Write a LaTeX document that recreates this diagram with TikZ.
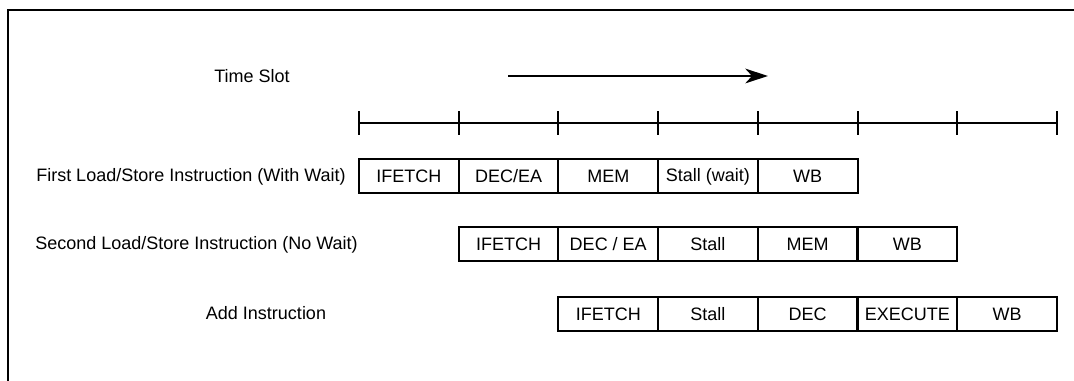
\documentclass[tikz,border=0pt]{standalone}
\usepackage{fontspec}
\setmainfont{Liberation Sans}
\usetikzlibrary{arrows.meta}
\begin{document}
\begin{tikzpicture}[x=0.75pt,y=0.75pt,
  txt/.style={inner sep=0pt,font=\fontsize{13.5}{16}\selectfont},
  stage/.style={txt,draw=black,line width=1.5pt,outer sep=0pt,minimum width=74.8pt,minimum height=25.5pt}]
\useasboundingbox (0,0) rectangle (1074,381);
\draw[black,line width=1.5pt] (8,0) -- (8,371) -- (1074,371);
\node[txt,anchor=center] (slot) at (252,305) {Time Slot};
\coordinate (arrowstart) at (508,305);
\coordinate (arrowend) at (768,305);
\draw[black,line width=1.6pt,-{Stealth[length=17pt,width=11pt,inset=5pt]}] (arrowstart) -- (arrowend);
\coordinate (t0) at (359.0,258);
\coordinate (t7) at (1056.9,258);
\draw[black,line width=1.5pt] (t0) -- (t7);
\draw[black,line width=1.5pt] (359.0,246) -- (359.0,270);
\draw[black,line width=1.5pt] (458.7,246) -- (458.7,270);
\draw[black,line width=1.5pt] (558.4,246) -- (558.4,270);
\draw[black,line width=1.5pt] (658.1,246) -- (658.1,270);
\draw[black,line width=1.5pt] (757.8,246) -- (757.8,270);
\draw[black,line width=1.5pt] (857.5,246) -- (857.5,270);
\draw[black,line width=1.5pt] (957.2,246) -- (957.2,270);
\draw[black,line width=1.5pt] (1056.9,246) -- (1056.9,270);
\node[txt,anchor=west] (first) at (36,204.5) {First Load/Store Instruction (With Wait)};
\node[stage] (firstA) at (408.85,204.5) {IFETCH};
\node[stage] (firstB) at (508.55,204.5) {DEC/EA};
\node[stage] (firstC) at (608.25,204.5) {MEM};
\node[stage] (firstD) at (707.95,204.5) {Stall (wait)};
\node[stage] (firstE) at (807.65,204.5) {WB};
\node[txt,anchor=west] (second) at (35,136.5) {Second Load/Store Instruction (No Wait)};
\node[stage] (secondA) at (508.55,136.5) {IFETCH};
\node[stage] (secondB) at (608.25,136.5) {DEC / EA};
\node[stage] (secondC) at (707.95,136.5) {Stall};
\node[stage] (secondD) at (807.65,136.5) {MEM};
\node[stage] (secondE) at (907.35,136.5) {WB};
\node[txt,anchor=center] (add) at (266,67.5) {Add Instruction};
\node[stage] (addA) at (608.25,66.5) {IFETCH};
\node[stage] (addB) at (707.95,66.5) {Stall};
\node[stage] (addC) at (807.65,66.5) {DEC};
\node[stage] (addD) at (907.35,66.5) {EXECUTE};
\node[stage] (addE) at (1007.05,66.5) {WB};
\end{tikzpicture}
\end{document}
